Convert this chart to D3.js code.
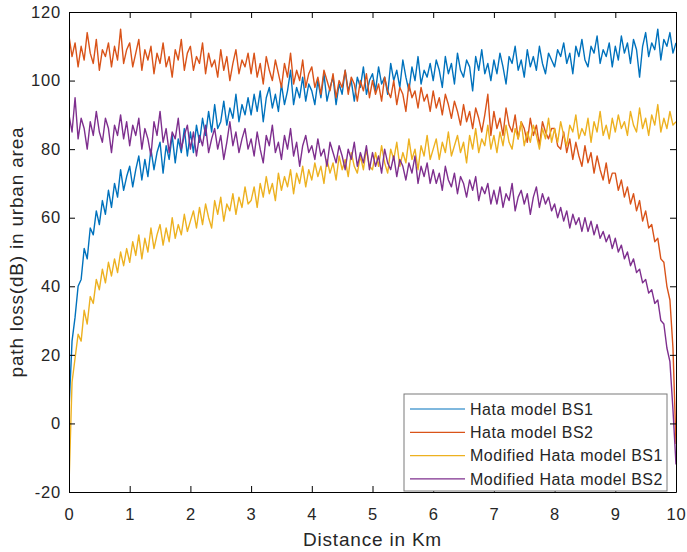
<!DOCTYPE html>
<html>
<head>
<meta charset="utf-8">
<script src="https://cdn.jsdelivr.net/npm/d3@7"></script>
<style>
  body { margin: 0; background: #fff; }
  svg text { font-family: "Liberation Sans", Arial, Helvetica, sans-serif; fill: #262626; }
</style>
</head>
<body>
<div id="chart"></div>
<script>
// distance grid (km), one sample every 0.05 km
const distanceKm = d3.range(201).map((i) => i / 20);

const seriesNames = ["Hata model BS1", "Hata model BS2", "Modified Hata model BS1", "Modified Hata model BS2"];
const seriesColors = ["#0072BD", "#D95319", "#EDB120", "#7E2F8E"];

const xTicks = [0, 1, 2, 3, 4, 5, 6, 7, 8, 9, 10];
const yTicks = [-20, 0, 20, 40, 60, 80, 100, 120];

// path loss values (dB)
const hataBS1 = [
  4, 24, 31, 40, 42, 51, 48, 57, 55, 62, 58, 65, 61, 68, 63, 70, 66, 74, 68, 72,
  75, 69, 74, 78, 71, 77, 72, 80, 74, 79, 82, 73, 81, 77, 84, 76, 83, 79, 86, 78,
  85, 79, 87, 82, 89, 84, 91, 85, 93, 86, 88, 94, 87, 92, 89, 96, 88, 93, 90, 95,
  90, 96, 91, 97, 88, 95, 98, 92, 96, 91, 99, 93, 97, 103, 93, 98, 95, 101, 94, 99,
  97, 93, 100, 95, 102, 94, 98, 101, 93, 99, 96, 103, 97, 100, 94, 101, 98, 104, 96, 100,
  102, 97, 104, 99, 101, 96, 105, 100, 103, 98, 106, 101, 97, 104, 100, 107, 99, 103, 101, 105,
  100, 106, 103, 98, 107, 102, 105, 99, 108, 103, 101, 106, 104, 97, 107, 103, 109, 102, 105, 100,
  106, 102, 108, 104, 99, 107, 105, 110, 103, 106, 101, 109, 104, 107, 103, 110, 105, 102, 108, 106,
  104, 109, 107, 111, 105, 108, 102, 110, 107, 112, 106, 104, 110, 108, 113, 105, 109, 107, 111, 104,
  110, 106, 113, 108, 111, 105, 112, 109, 101, 110, 114, 107, 111, 109, 115, 106, 112, 110, 114, 108,
  111
];

const hataBS2 = [
  113, 107, 111, 104, 110, 106, 114, 108, 105, 112, 103, 109, 107, 111, 104, 110, 106, 115, 105, 109,
  111, 104, 108, 112, 103, 109, 106, 110, 102, 108, 105, 111, 104, 107, 101, 109, 106, 112, 103, 108,
  110, 103, 107, 105, 111, 102, 108, 104, 106, 101, 109, 103, 107, 100, 105, 109, 102, 106, 104, 108,
  102, 108, 101, 105, 99, 107, 103, 100, 106, 102, 98, 105, 101, 108, 99, 103, 100, 106, 98, 102,
  104, 98, 101, 96, 103, 100, 97, 102, 95, 100, 98, 103, 96, 101, 99, 94, 100, 97, 102, 95,
  100, 96, 99, 94, 101, 97, 95, 100, 93, 98, 96, 91, 99, 95, 97, 92, 98, 94, 96, 91,
  97, 92, 95, 90, 96, 93, 89, 94, 91, 87, 93, 88, 91, 86, 92, 89, 85, 90, 96, 84,
  91, 86, 89, 84, 92, 87, 85, 90, 83, 88, 86, 82, 89, 84, 87, 81, 88, 85, 83, 86,
  86, 81, 80, 85, 79, 83, 77, 82, 78, 75, 81, 76, 79, 73, 78, 74, 71, 76, 70, 73,
  73, 68, 71, 66, 69, 64, 67, 62, 65, 59, 62, 57, 58, 53, 54, 48, 47, 40, 36, 22,
  -6
];

const modHataBS1 = [
  -18, 12, 19, 26, 24, 33, 29, 37, 35, 42, 39, 45, 41, 47, 43, 48, 44, 50, 46, 51,
  47, 53, 49, 55, 48, 54, 50, 57, 51, 55, 58, 52, 57, 53, 60, 54, 58, 55, 61, 56,
  59, 62, 57, 63, 58, 64, 60, 57, 65, 61, 66, 59, 64, 62, 67, 61, 66, 63, 69, 64,
  65, 69, 63, 70, 66, 72, 67, 70, 65, 73, 68, 72, 69, 74, 67, 73, 70, 75, 69, 74,
  71, 76, 72, 75, 70, 77, 73, 76, 71, 78, 74, 77, 72, 79, 75, 73, 78, 74, 80, 75,
  74, 79, 75, 81, 76, 73, 80, 77, 82, 75, 79, 76, 83, 77, 80, 74, 81, 78, 84, 77,
  80, 83, 77, 82, 79, 85, 78, 81, 84, 79, 82, 76, 84, 80, 86, 79, 83, 81, 87, 80,
  84, 79, 85, 81, 87, 82, 80, 86, 83, 88, 81, 85, 82, 87, 84, 80, 86, 83, 89, 82,
  86, 82, 88, 84, 81, 87, 85, 90, 83, 86, 84, 89, 82, 88, 85, 91, 84, 87, 83, 89,
  85, 90, 86, 88, 84, 91, 87, 85, 92, 86, 89, 84, 90, 87, 93, 85, 89, 86, 91, 87,
  88
];

const modHataBS2 = [
  90, 85, 95, 83, 89, 86, 80, 88, 84, 91, 85, 82, 89, 86, 79, 87, 84, 90, 83, 88,
  81, 87, 84, 89, 80, 86, 83, 78, 88, 84, 91, 82, 86, 79, 85, 83, 89, 80, 84, 87,
  80, 85, 78, 84, 81, 87, 79, 83, 86, 80, 84, 77, 82, 88, 81, 85, 79, 83, 86, 80,
  83, 78, 85, 80, 76, 84, 81, 87, 79, 82, 77, 84, 80, 86, 78, 82, 75, 81, 84, 79,
  81, 77, 83, 78, 80, 75, 82, 79, 76, 81, 78, 74, 80, 77, 82, 75, 79, 76, 81, 74,
  79, 75, 78, 73, 80, 76, 74, 78, 72, 77, 75, 71, 76, 73, 78, 70, 75, 72, 76, 70,
  74, 70, 73, 68, 75, 71, 69, 73, 67, 72, 70, 66, 71, 68, 72, 65, 69, 67, 70, 64,
  68, 64, 69, 63, 67, 65, 70, 62, 66, 68, 64, 67, 61, 66, 69, 63, 67, 64, 66, 62,
  64, 60, 63, 59, 62, 57, 61, 58, 60, 56, 60, 56, 59, 55, 58, 54, 56, 53, 55, 51,
  54, 50, 52, 48, 50, 46, 48, 44, 45, 41, 42, 38, 39, 35, 36, 30, 29, 22, 18, 4,
  -12
];

const allSeries = [hataBS1, hataBS2, modHataBS1, modHataBS2];

const width = 687;
const height = 552;
const margin = { top: 12, right: 11, bottom: 60, left: 69 };
const innerW = width - margin.left - margin.right;
const innerH = height - margin.top - margin.bottom;

const svg = d3.select("#chart")
  .append("svg")
  .attr("width", width)
  .attr("height", height);

const x = d3.scaleLinear().domain([0, 10]).range([0, innerW]);
const y = d3.scaleLinear().domain([-20, 120]).range([innerH, 0]);

const g = svg.append("g").attr("transform", `translate(${margin.left},${margin.top})`);

svg.append("defs").append("clipPath").attr("id", "plot-clip")
  .append("rect").attr("width", innerW).attr("height", innerH);

// Draw series (later ones on top, like MATLAB)
const line = d3.line()
  .x((d, i) => x(distanceKm[i]))
  .y((d) => y(d));

g.append("g")
  .attr("clip-path", "url(#plot-clip)")
  .selectAll("path")
  .data(allSeries)
  .join("path")
  .attr("fill", "none")
  .attr("stroke", (d, i) => seriesColors[i])
  .attr("stroke-width", 1.4)
  .attr("stroke-linejoin", "round")
  .attr("d", line);

// Axes with inward ticks on all four sides
const plainNumber = (d) => String(d); // hyphen minus like MATLAB
const styleAxis = (sel) => {
  sel.selectAll(".domain").attr("stroke", "#000").attr("stroke-width", 1);
  sel.selectAll(".tick line").attr("stroke", "#000").attr("stroke-width", 1);
  sel.selectAll("text").style("font-size", "16.5px").attr("fill", "#262626").style("letter-spacing", "0.8px");
};

g.append("g")
  .attr("transform", `translate(0,${innerH})`)
  .call(d3.axisBottom(x).tickValues(xTicks).tickSize(-6).tickSizeOuter(0).tickPadding(16).tickFormat(plainNumber))
  .call(styleAxis);

g.append("g")
  .call(d3.axisLeft(y).tickValues(yTicks).tickSize(-6).tickSizeOuter(0).tickPadding(8).tickFormat(plainNumber))
  .call(styleAxis);

g.append("g")
  .call(d3.axisTop(x).tickValues(xTicks).tickSize(-6).tickSizeOuter(0).tickFormat(""))
  .call(styleAxis);

g.append("g")
  .attr("transform", `translate(${innerW},0)`)
  .call(d3.axisRight(y).tickValues(yTicks).tickSize(-6).tickSizeOuter(0).tickFormat(""))
  .call(styleAxis);

// Axis labels
svg.append("text")
  .attr("x", margin.left + innerW / 2)
  .attr("y", 546)
  .attr("text-anchor", "middle")
  .style("font-size", "19px")
  .style("letter-spacing", "0.8px")
  .text("Distance in Km");

svg.append("text")
  .attr("transform", `translate(23,${margin.top + innerH / 2}) rotate(-90)`)
  .attr("text-anchor", "middle")
  .style("font-size", "19px")
  .style("letter-spacing", "0.8px")
  .text("path loss(dB) in urban area");

// Legend
const legend = svg.append("g").attr("transform", "translate(404,394)");

legend.append("rect")
  .attr("width", 263)
  .attr("height", 97)
  .attr("fill", "#fff")
  .attr("stroke", "#7a7a7a")
  .attr("stroke-width", 1);

const rows = legend.selectAll("g.row")
  .data(seriesNames)
  .join("g")
  .attr("class", "row")
  .attr("transform", (d, i) => `translate(0,${15 + i * 23.3})`);

rows.append("line")
  .attr("x1", 6)
  .attr("x2", 61)
  .attr("stroke", (d, i) => seriesColors[i])
  .attr("stroke-width", 1.2);

rows.append("text")
  .attr("x", 66)
  .attr("dy", "0.35em")
  .style("font-size", "16px")
  .style("letter-spacing", "0.5px")
  .text((d) => d);
</script>
</body>
</html>
